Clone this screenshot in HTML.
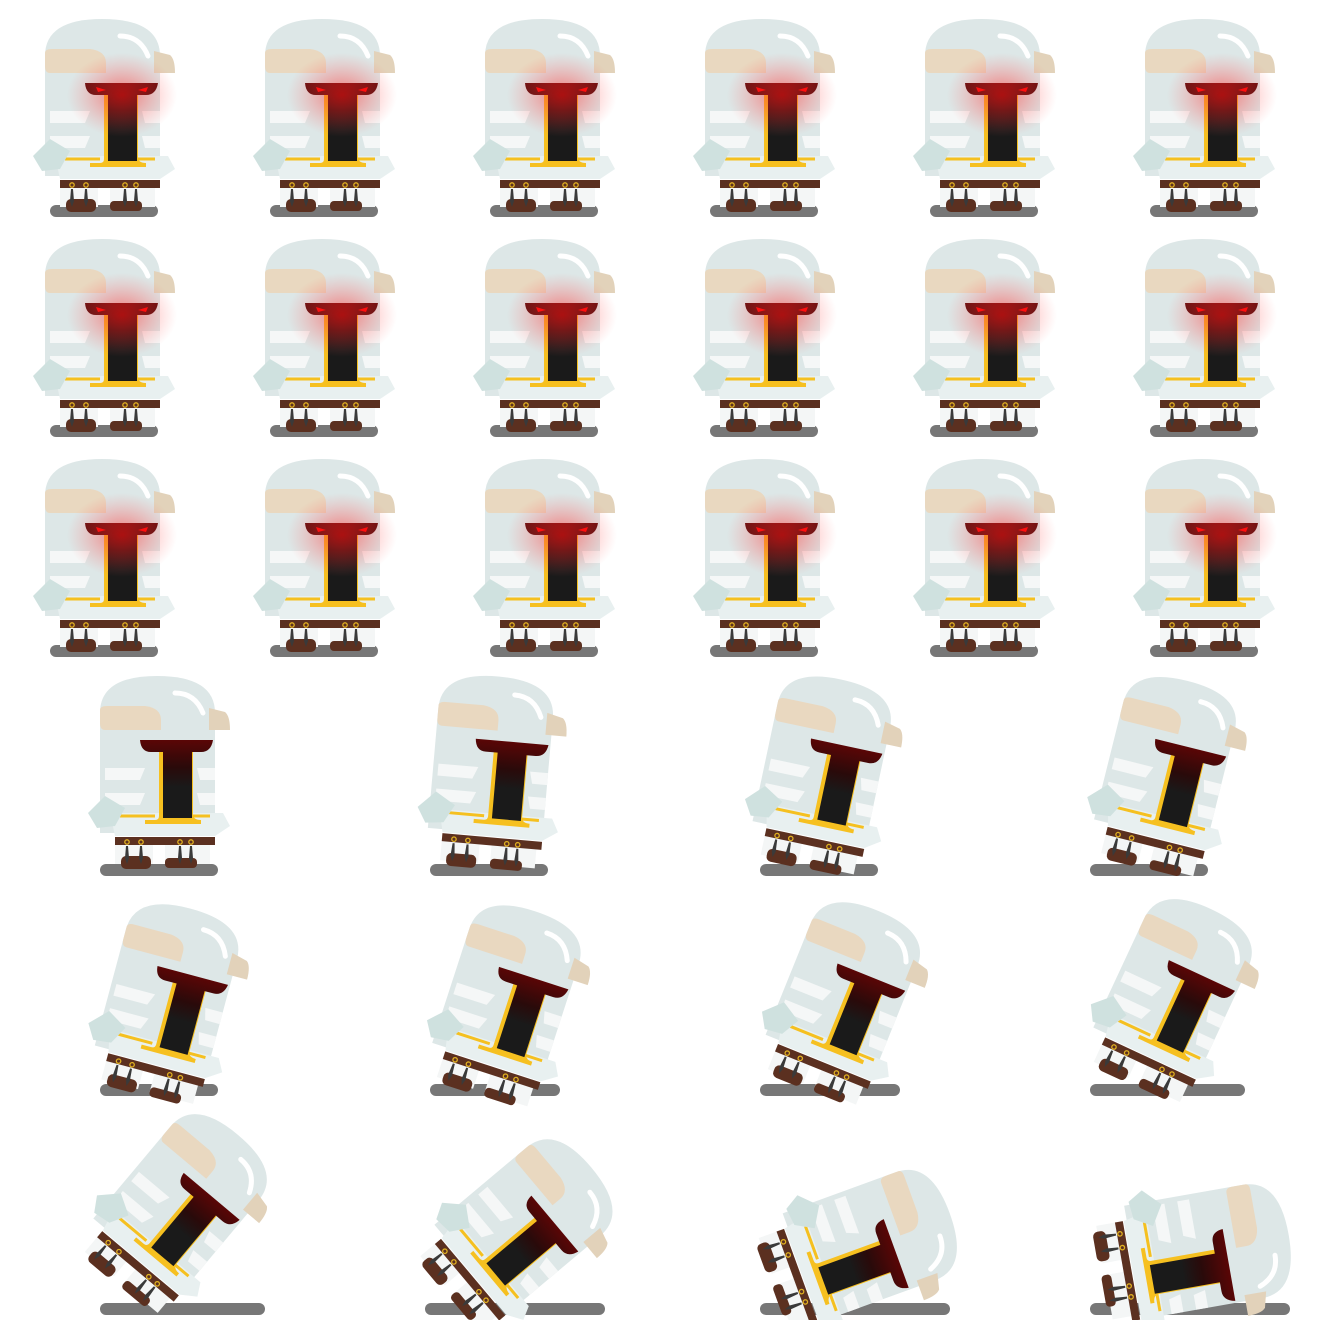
<!DOCTYPE html>
<html><head><meta charset="utf-8"><style>
html,body{margin:0;padding:0;background:#fff;}
svg{display:block;}
</style></head><body>
<svg width="1320" height="1320" viewBox="0 0 1320 1320">
<defs>
<radialGradient id="glow" cx="0.5" cy="0.5" r="0.5">
<stop offset="0" stop-color="#ff1818" stop-opacity="0.55"/>
<stop offset="0.55" stop-color="#ff4040" stop-opacity="0.25"/>
<stop offset="1" stop-color="#ff6060" stop-opacity="0"/>
</radialGradient>
<linearGradient id="slot" x1="0" y1="0" x2="0" y2="1">
<stop offset="0" stop-color="#5a0606"/><stop offset="0.35" stop-color="#2a0a0a"/><stop offset="0.6" stop-color="#1a1a1a"/><stop offset="1" stop-color="#1a1a1a"/>
</linearGradient>
<g id="body">
<rect x="30" y="176" width="38" height="20" fill="#f4f6f6"/>
<rect x="80" y="176" width="45" height="20" fill="#f4f6f6"/>
<rect x="36" y="188" width="30" height="13" rx="5" fill="#5b3020"/>
<rect x="80" y="190" width="32" height="10" rx="4" fill="#5b3020"/>
<path d="M15 45 Q15 8 72 8 Q130 8 130 45 L130 165 L15 165 Z" fill="#dde7e7"/>
<path d="M20 100 L60 100 L55 112 L20 112Z M20 125 L60 125 L55 137 L20 137Z" fill="#f5f7f7"/>
<path d="M112 100 L130 100 L130 112 L115 112Z M112 125 L130 125 L130 137 L115 137Z" fill="#f5f7f7"/>
<path d="M90 25 Q110 25 118 45" stroke="#fff" stroke-width="5" fill="none" stroke-linecap="round"/>
<path d="M25 145 L138 145 L145 158 L130 168 L30 168 Z" fill="#e8f0f0"/>
<path d="M35 148 L70 148 M80 148 L125 148" stroke="#f5c020" stroke-width="3"/>
<path d="M3 145 L20 128 L40 140 L30 158 L12 160 Z" fill="#cfe1df"/>
<path d="M15 42 Q15 38 22 38 L60 38 Q76 40 76 52 L76 62 L20 62 Q15 62 15 55 Z" fill="#e9d8c0"/>
<path d="M124 40 L140 44 Q145 48 145 62 L124 62 Z" fill="#e2d2ba"/>
<path d="M74 82 L74 148 Q74 152 70 152 L60 152 L60 156 L116 156 L116 152 Q108 152 108 146 L108 82 Z" fill="#f6c020"/>
<path d="M55 72 L128 72 Q126 84 116 84 L107 84 L107 150 L78 150 L78 84 L66 84 Q56 84 55 72 Z" fill="url(#slot)"/>
<rect x="30" y="169" width="100" height="8" fill="#5b3020"/>
<circle cx="42" cy="174" r="2.2" fill="none" stroke="#e0b020" stroke-width="1.3"/>
<circle cx="56" cy="174" r="2.2" fill="none" stroke="#e0b020" stroke-width="1.3"/>
<circle cx="95" cy="174" r="2.2" fill="none" stroke="#e0b020" stroke-width="1.3"/>
<circle cx="106" cy="174" r="2.2" fill="none" stroke="#e0b020" stroke-width="1.3"/>
<path d="M41 178 L43 178 L44 190 L42 196 L40 190Z M55 178 L57 178 L58 190 L56 196 L54 190Z M94 178 L96 178 L97 190 L95 196 L93 190Z M105 178 L107 178 L108 190 L106 196 L104 190Z" fill="#3a3a3a"/>
</g>
<g id="kglow">
<use href="#body"/>
<ellipse cx="92" cy="84" rx="55" ry="42" fill="url(#glow)"/>
<path d="M66 76 L76 79 L68 81Z M118 76 L108 79 L116 81Z" fill="#ff1010"/>
</g>
<g id="kplain"><use href="#body"/></g>
</defs>
<g id="shadows"></g>
<g id="sheet"></g>
</svg>
<script>
const cols6=[30,250,470,690,910,1130];
const rows3=[11,231,451];
const row4x=[85,410,730,1070];
const row4rot=[0,5,12,14];
const row4sx=[100,430,760,1090];
const row5x=[70,405,735,1060];
const row5y=[895,895,890,885];
const row5rot=[15,18,22,25];
const row5sx=[100,430,760,1090];
const row5sw=[118,130,140,155];
const row6x=[45,375,700,1030];
const row6y=[1085,1095,1085,1075];
const row6rot=[40,50,70,80];
const row6sx=[100,425,760,1090];
const row6sw=[165,180,190,200];
const NS='http://www.w3.org/2000/svg';
const sheet=document.getElementById('sheet');
const shadows=document.getElementById('shadows');
function shadow(x,y,w,name){
  const s=document.createElementNS(NS,'rect');
  s.setAttribute('x',x);s.setAttribute('y',y);
  s.setAttribute('width',w);s.setAttribute('height',12);s.setAttribute('rx',6);
  s.setAttribute('fill','#777');
  
  
  shadows.appendChild(s);
}
function place(id,x,y,rot,name){
  const u=document.createElementNS(NS,'use');
  u.setAttribute('href','#'+id);
  u.setAttribute('transform','translate('+x+','+y+') rotate('+rot+',75,195)');
  
  
  sheet.appendChild(u);
}
rows3.forEach((y,r)=>cols6.forEach((x,c)=>{
  shadow(x+20,y+194,108,'shadow-r'+(r+1)+'c'+(c+1));
  place('kglow',x,y,0,'knight-frame-r'+(r+1)+'c'+(c+1));
}));
row4x.forEach((x,i)=>{shadow(row4sx[i],864,118,'shadow-r4c'+(i+1));place('kplain',x,668,row4rot[i],'knight-fall-r4c'+(i+1));});
row5x.forEach((x,i)=>{shadow(row5sx[i],1084,row5sw[i],'shadow-r5c'+(i+1));place('kplain',x,row5y[i],row5rot[i],'knight-fall-r5c'+(i+1));});
row6x.forEach((x,i)=>{shadow(row6sx[i],1303,row6sw[i],'shadow-r6c'+(i+1));place('kplain',x,row6y[i],row6rot[i],'knight-fall-r6c'+(i+1));});
</script>
</body></html>
